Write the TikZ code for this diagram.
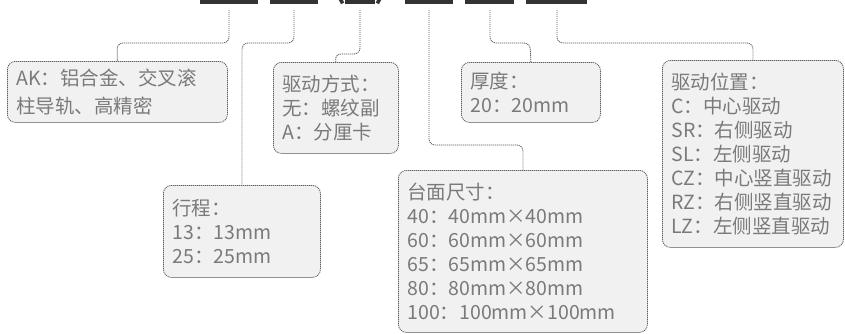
\documentclass[tikz,border=0pt]{standalone}
\usepackage{fontspec}
\setmainfont{Noto Sans CJK SC}
\definecolor{txtgray}{HTML}{7A7A7A}
\definecolor{boxfill}{HTML}{F1F1F1}
\definecolor{linegray}{HTML}{5A5A5A}
\definecolor{bardark}{HTML}{333333}
\tikzset{
    infobox/.style={draw=linegray, fill=boxfill, dash pattern=on 1.2pt off 0.8pt,
        line width=0.8pt, rounded corners=8pt, anchor=north west, align=left,
        text=txtgray, font=\fontsize{19.5}{24}\selectfont, inner xsep=9pt, inner ysep=0pt},
    link/.style={draw=linegray, dash pattern=on 1.2pt off 0.8pt, line width=0.8pt,
        rounded corners=6pt},
    codebar/.style={fill=bardark},
    paren/.style={text=bardark, inner sep=0pt, anchor=base, font=\fontsize{30}{30}\selectfont\bfseries},
}

\begin{document}
\begin{tikzpicture}[x=1pt, y=-1pt]
    \useasboundingbox (0,0) rectangle (845,333);
    % code bars at the top
    \fill [codebar] (200,0) rectangle (258,4);
    \fill [codebar] (270,0) rectangle (318,4);
    \fill [codebar] (345,0) rectangle (375,4);
    \fill [codebar] (405,0) rectangle (453,4);
    \fill [codebar] (465,0) rectangle (514,4);
    \fill [codebar] (526,0) rectangle (587,4);
    \node [paren] (lp) at (340,-1.5) {(};
    \node [paren] (rp) at (380,-1.5) {)};
    \coordinate (b1) at (229,10);
    \coordinate (b2) at (294,10);
    \coordinate (b3) at (360,10);
    \coordinate (b4) at (429,10);
    \coordinate (b5) at (490,10);
    \coordinate (b6) at (557,10);
    % boxes
    \node [infobox, text width=202pt, minimum height=61pt,
        font=\fontsize{19.5}{28}\selectfont] (ak) at (7,61)
        {AK：铝合金、交叉滚\\柱导轨、高精密};
    \node [infobox, text width=107pt, minimum height=91pt] (drive) at (273,62)
        {驱动方式：\\无：螺纹副\\A：分厘卡};
    \node [infobox, text width=121pt, minimum height=60pt] (thick) at (461,62)
        {厚度：\\20：20mm};
    \node [infobox, text width=163pt, minimum height=187pt] (pos) at (662,60)
        {驱动位置：\\C：中心驱动\\SR：右侧驱动\\SL：左侧驱动\\CZ：中心竖直驱动\\RZ：右侧竖直驱动\\LZ：左侧竖直驱动};
    \node [infobox, text width=139pt, minimum height=92pt] (stroke) at (163,185)
        {行程：\\13：13mm\\25：25mm};
    \node [infobox, text width=231pt, minimum height=162pt] (table) at (398,170)
        {台面尺寸：\\40：40mm×40mm\\60：60mm×60mm\\65：65mm×65mm\\80：80mm×80mm\\100：100mm×100mm};
    % connectors
    \draw [link] (b1) |- (117,43) -- (ak.north);
    \draw [link] (b2) |- (242,43) -- (stroke.north);
    \draw [link] (b3) |- (335,54) -- (drive.north);
    \draw [link] (b4) |- (523,145) -- (table.north);
    \draw [link] (b5) |- (530,43) -- (thick.north);
    \draw [link] (b6) |- (753,43) -- (pos.north);
\end{tikzpicture}
\end{document}
